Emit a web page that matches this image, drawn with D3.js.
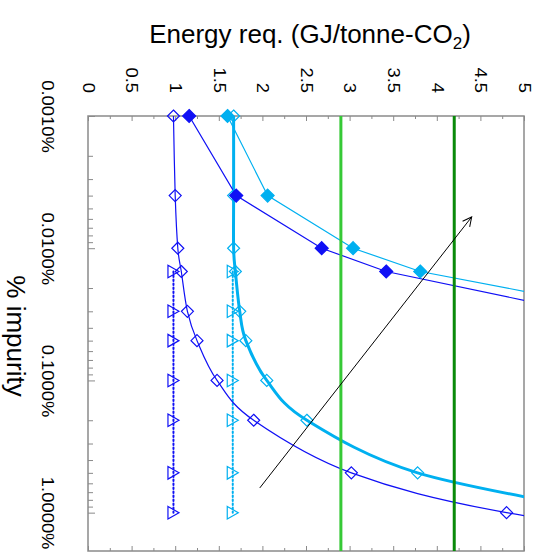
<!DOCTYPE html>
<html>
<head>
<meta charset="utf-8">
<script src="https://cdn.jsdelivr.net/npm/d3@7"></script>
<style>
  body { margin: 0; background: #fff; }
  svg { display: block; }
  text { font-family: "Liberation Sans", Arial, sans-serif; fill: #000; }
</style>
</head>
<body>
<svg id="chart" width="542" height="556"></svg>
<script>
// Energy requirement (GJ/tonne-CO2) versus impurity level (%)
const energyTicks = [0, 0.5, 1, 1.5, 2, 2.5, 3, 3.5, 4, 4.5, 5];
const energyTickLabels = ["0", "0.5", "1", "1.5", "2", "2.5", "3", "3.5", "4", "4.5", "5"];
const impurityTicks = [0.001, 0.01, 0.1, 1];
const impurityTickLabels = ["0.0010%", "0.0100%", "0.1000%", "1.0000%"];

// Open blue diamonds (smoothed line)
const blueOpenImp    = [0.001, 0.004, 0.01, 0.015, 0.03, 0.05, 0.1, 0.2, 0.5, 1.0, 2.0];
const blueOpenEnergy = [0.98, 1.00, 1.03, 1.07, 1.14, 1.25, 1.48, 1.90, 3.02, 4.80, 8.0];
// Open cyan diamonds (thick smoothed line)
const cyanOpenImp    = [0.001, 0.004, 0.01, 0.015, 0.03, 0.05, 0.1, 0.2, 0.5, 1.0];
const cyanOpenEnergy = [1.67, 1.67, 1.67, 1.69, 1.74, 1.81, 2.05, 2.51, 3.78, 6.0];
// Filled blue diamonds
const blueFillImp    = [0.001, 0.004, 0.01, 0.015, 0.03];
const blueFillEnergy = [1.16, 1.70, 2.68, 3.42, 5.6];
// Filled cyan diamonds
const cyanFillImp    = [0.001, 0.004, 0.01, 0.015, 0.03];
const cyanFillEnergy = [1.60, 2.06, 3.04, 3.81, 6.2];
// Triangles (dotted lines)
const blueTriImp    = [0.015, 0.03, 0.05, 0.1, 0.2, 0.5, 1.0];
const blueTriEnergy = [0.98, 0.98, 0.98, 0.98, 0.98, 0.98, 0.98];
const cyanTriImp    = [0.015, 0.03, 0.05, 0.1, 0.2, 0.5, 1.0];
const cyanTriEnergy = [1.66, 1.66, 1.66, 1.66, 1.66, 1.66, 1.66];
// Reference energy levels
const refEnergy = [2.9, 4.2];
const refColors = ["#36c936", "#0a8a0a"];
// Trend arrow, from (energy, impurity) to (energy, impurity)
const arrowEnergy = [1.97, 4.40];
const arrowImp = [0.65, 0.0058];

(function draw() {
  const BLUE = "#1010f5";
  const CYAN = "#00b0f0";
  const GREY = "#8a8a8a";

  const svg = d3.select("#chart");
  const pL = 88, pR = 524, pT = 116, pB = 551;

  const x = d3.scaleLinear().domain([0, 5]).range([pL, pR]);
  const y = d3.scaleLog().domain([0.001, 1.95]).range([pT, pB]);

  const defs = svg.append("defs");
  defs.append("clipPath").attr("id", "plot")
    .append("rect").attr("x", pL).attr("y", pT)
    .attr("width", pR - pL).attr("height", pB - pT);

  defs.append("marker")
    .attr("id", "arrowhead").attr("viewBox", "-10 -6 12 12")
    .attr("refX", 0).attr("refY", 0)
    .attr("markerWidth", 12).attr("markerHeight", 12)
    .attr("markerUnits", "userSpaceOnUse").attr("orient", "auto")
    .append("path").attr("d", "M-9,-4.5L0,0L-9,4.5")
    .attr("fill", "none").attr("stroke", "#000").attr("stroke-width", 1);

  // Frame
  svg.append("rect").attr("x", pL).attr("y", pT)
    .attr("width", pR - pL).attr("height", pB - pT)
    .attr("fill", "none").attr("stroke", GREY).attr("stroke-width", 1.5);

  function styleAxis(g) {
    g.select(".domain").remove();
    g.selectAll("line").attr("stroke", GREY).attr("stroke-width", 1);
  }

  // Energy axis minor ticks (every 0.25) top and bottom
  const energyMinor = d3.range(0.25, 5, 0.5);
  svg.append("g").attr("transform", `translate(0,${pT})`)
    .call(d3.axisTop(x).tickValues(energyMinor).tickSize(-3).tickFormat(""))
    .call(styleAxis);
  svg.append("g").attr("transform", `translate(0,${pB})`)
    .call(d3.axisBottom(x).tickValues(energyMinor).tickSize(-3).tickFormat(""))
    .call(styleAxis);
  svg.append("g").attr("transform", `translate(0,${pB})`)
    .call(d3.axisBottom(x).tickValues(energyTicks).tickSize(-5).tickFormat(""))
    .call(styleAxis);

  // Energy axis major ticks with labels along the top
  const topAxis = svg.append("g").attr("transform", `translate(0,${pT})`)
    .call(d3.axisTop(x).tickValues(energyTicks).tickSize(-5)
      .tickFormat((d, i) => energyTickLabels[i]))
    .call(styleAxis);
  topAxis.selectAll("text")
    .attr("x", 0).attr("y", 0).attr("dy", "0.35em")
    .attr("text-anchor", "end")
    .attr("transform", "translate(0,-23) rotate(90) scale(1.15,1)")
    .style("font-size", "16px");

  // Impurity axis (log) minor ticks
  const impMinor = [];
  impurityTicks.forEach(dec => {
    for (let k = 2; k <= 9; k++) { const v = dec * k; if (v <= 1.95) impMinor.push(v); }
  });
  svg.append("g").attr("transform", `translate(${pL},0)`)
    .call(d3.axisLeft(y).tickValues(impMinor).tickSize(-5).tickFormat(""))
    .call(styleAxis);

  const leftAxis = svg.append("g").attr("transform", `translate(${pL},0)`)
    .call(d3.axisLeft(y).tickValues(impurityTicks).tickSize(-7)
      .tickFormat((d, i) => impurityTickLabels[i]))
    .call(styleAxis);
  leftAxis.selectAll("text")
    .attr("x", 0).attr("y", 0).attr("dy", "0.35em")
    .attr("text-anchor", "middle")
    .attr("transform", "translate(-40,0) rotate(90) scale(1.15,1)")
    .style("font-size", "16px");

  // Axis titles
  const title = svg.append("text")
    .attr("x", 310).attr("y", 43).attr("text-anchor", "middle")
    .style("font-size", "26px");
  title.append("tspan").text("Energy req. (GJ/tonne-CO");
  title.append("tspan").text("2").attr("dy", 6).style("font-size", "17px");
  title.append("tspan").text(")").attr("dy", -6);

  svg.append("text")
    .attr("transform", "translate(7,336) rotate(90)")
    .attr("text-anchor", "middle")
    .style("font-size", "26px")
    .text("% impurity");

  // Series
  const plot = svg.append("g").attr("clip-path", "url(#plot)");
  const zip = (imp, en) => imp.map((v, i) => ({ imp: v, e: en[i] }));

  const lineLinear = d3.line().x(d => x(d.e)).y(d => y(d.imp));
  const lineSmooth = d3.line().x(d => x(d.e)).y(d => y(d.imp)).curve(d3.curveCardinal.tension(0));

  const diamond = r => `M0,${-r}L${r},0L0,${r}L${-r},0Z`;
  const triangle = (h, s) => `M${-h / 2},${-s / 2}L${h / 2},0L${-h / 2},${s / 2}Z`;

  const series = [
    { data: zip(blueTriImp, blueTriEnergy), color: BLUE, width: 2, dash: "1.5,2.5", curve: lineLinear, shape: triangle(11, 12.5), fill: "none" },
    { data: zip(cyanTriImp, cyanTriEnergy), color: CYAN, width: 2, dash: "1.5,2.5", curve: lineLinear, shape: triangle(11, 12.5), fill: "none" },
    { data: zip(blueOpenImp, blueOpenEnergy), color: BLUE, width: 1.2, dash: null, curve: lineSmooth, shape: diamond(6), fill: "none" },
    { data: zip(cyanOpenImp, cyanOpenEnergy), color: CYAN, width: 3, dash: null, curve: lineSmooth, shape: diamond(6), fill: "none" },
    { data: zip(blueFillImp, blueFillEnergy), color: BLUE, width: 1.2, dash: null, curve: lineLinear, shape: diamond(6.5), fill: BLUE },
    { data: zip(cyanFillImp, cyanFillEnergy), color: CYAN, width: 1.2, dash: null, curve: lineLinear, shape: diamond(6.5), fill: CYAN }
  ];

  series.forEach(s => {
    plot.append("path").datum(s.data)
      .attr("d", s.curve)
      .attr("fill", "none")
      .attr("stroke", s.color)
      .attr("stroke-width", s.width)
      .attr("stroke-dasharray", s.dash)
      .attr("stroke-linecap", s.dash ? "round" : "butt");
  });

  // Reference levels
  refEnergy.forEach((v, i) => {
    plot.append("line")
      .attr("x1", x(v)).attr("x2", x(v)).attr("y1", pT).attr("y2", pB)
      .attr("stroke", refColors[i]).attr("stroke-width", 3);
  });

  // Markers (off-scale points are skipped)
  series.forEach(s => {
    svg.append("g").selectAll("path")
      .data(s.data.filter(d => d.e <= 5 && d.imp <= 1.95))
      .join("path")
      .attr("transform", d => `translate(${x(d.e)},${y(d.imp)})`)
      .attr("d", s.shape)
      .attr("fill", s.fill)
      .attr("stroke", s.color)
      .attr("stroke-width", 1.2);
  });

  // Trend arrow
  svg.append("line")
    .attr("x1", x(arrowEnergy[0])).attr("y1", y(arrowImp[0]))
    .attr("x2", x(arrowEnergy[1])).attr("y2", y(arrowImp[1]))
    .attr("stroke", "#000").attr("stroke-width", 1)
    .attr("marker-end", "url(#arrowhead)");
})();
</script>
</body>
</html>
